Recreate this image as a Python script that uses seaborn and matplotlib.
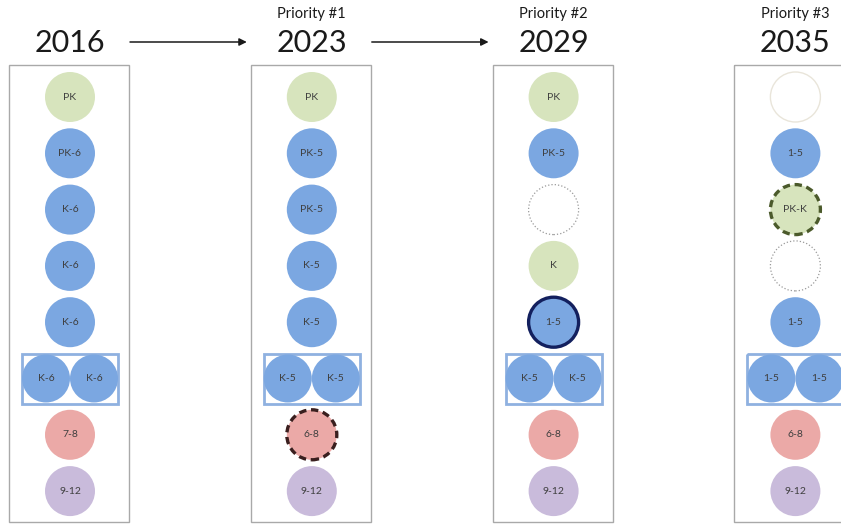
import matplotlib
matplotlib.use("Agg")
import matplotlib.pyplot as plt
from matplotlib.patches import Rectangle
import pandas as pd
import seaborn as sns

sns.set_theme(style="white")
plt.rcParams["font.family"] = ["Lato", "DejaVu Sans"]

# ---- data -------------------------------------------------------------
years = ["2016", "2023", "2029", "2035"]
priorities = ["", "Priority #1", "Priority #2", "Priority #3"]
arrows_after = [True, True, False, False]

# one entry per row; a tuple means two schools side by side in a box
labels = [
    ["PK", "PK-6", "K-6", "K-6", "K-6", ("K-6", "K-6"), "7-8", "9-12"],
    ["PK", "PK-5", "PK-5", "K-5", "K-5", ("K-5", "K-5"), "6-8", "9-12"],
    ["PK", "PK-5", "", "K", "1-5", ("K-5", "K-5"), "6-8", "9-12"],
    ["", "1-5", "PK-K", "", "1-5", ("1-5", "1-5"), "6-8", "9-12"],
]
fills = [
    ["green", "blue", "blue", "blue", "blue", "blue", "red", "purple"],
    ["green", "blue", "blue", "blue", "blue", "blue", "red", "purple"],
    ["green", "blue", "empty", "green", "blue", "blue", "red", "purple"],
    ["empty", "blue", "green", "empty", "blue", "blue", "red", "purple"],
]
edges = [
    ["", "", "", "", "", "", "", ""],
    ["", "", "", "", "", "", "dash_red", ""],
    ["", "", "dotted", "", "navy", "", "", ""],
    ["faint", "", "dash_green", "dotted", "", "", "", ""],
]

palette = {
    "green": "#d7e4bd",
    "blue": "#7ba7e1",
    "red": "#eba9a7",
    "purple": "#c9bbdb",
    "empty": "#ffffff",
}
edge_styles = {
    "dash_red": ("#3a1f1f", 2.4, (0, (2.2, 1.4))),
    "dash_green": ("#4b5a2b", 2.4, (0, (2.2, 1.4))),
    "navy": ("#13205e", 2.4, "-"),
    "dotted": ("#9a9a9a", 0.9, ":"),
    "faint": ("#e9e5da", 1.0, "-"),
}

# ---- layout (pixels) --------------------------------------------------
W, H = 841, 527
col_x0, col_step = 70, 241.8
row_y0, row_step = 97, 56.3
pair_dx = 24
s_single = (50 * 0.72) ** 2
s_pair = (48 * 0.72) ** 2

rows = []
for c, col in enumerate(labels):
    cx = col_x0 + c * col_step
    for r, lab in enumerate(col):
        cy = row_y0 + r * row_step
        if isinstance(lab, tuple):
            for k, sub in enumerate(lab):
                rows.append(dict(x=cx + (2 * k - 1) * pair_dx, y=cy, label=sub,
                                 fill=fills[c][r], edge=edges[c][r], size=s_pair, pair=True))
        else:
            rows.append(dict(x=cx, y=cy, label=lab, fill=fills[c][r],
                             edge=edges[c][r], size=s_single, pair=False))
df = pd.DataFrame(rows)

fig = plt.figure(figsize=(W / 100, H / 100), dpi=100)
ax = fig.add_axes([0, 0, 1, 1])
ax.set_xlim(0, W)
ax.set_ylim(H, 0)
ax.axis("off")

# column boxes, titles, arrows
for c, year in enumerate(years):
    cx = col_x0 + c * col_step
    ax.add_patch(Rectangle((cx - 61, 65), 120, 457, fill=False,
                           edgecolor="#a9a9a9", lw=1.0, zorder=1))
    ax.text(cx, 43, year, ha="center", va="center", fontsize=22, color="#1a1a1a")
    if priorities[c]:
        ax.text(cx, 14, priorities[c], ha="center", va="center", fontsize=10.5, color="#1a1a1a")
    if arrows_after[c]:
        ax.annotate("", xy=(cx + col_step - 65, 42), xytext=(cx + 60, 42),
                    arrowprops=dict(arrowstyle="-|>", color="#1a1a1a", lw=1.1,
                                    mutation_scale=11, shrinkA=0, shrinkB=0))
    # box around the pair row
    pr = [r for r, lab in enumerate(labels[c]) if isinstance(lab, tuple)][0]
    py = row_y0 + pr * row_step
    ax.add_patch(Rectangle((cx - 2 * pair_dx, py - 25), 4 * pair_dx, 50, fill=False,
                           edgecolor="#8fb1e0", lw=2.0, zorder=2))

for size, sub in df.groupby("size"):
    sns.scatterplot(data=sub, x="x", y="y", hue="fill", palette=palette, s=size,
                    linewidth=0, legend=False, ax=ax, zorder=3)

for name, sub in df[df["edge"] != ""].groupby("edge"):
    color, lw, ls = edge_styles[name]
    ax.scatter(sub["x"], sub["y"], s=sub["size"], facecolors="none", edgecolors=color,
               linewidths=lw, linestyles=[ls], zorder=4)

for _, row in df.iterrows():
    if row["label"]:
        ax.text(row["x"], row["y"], row["label"], ha="center", va="center",
                fontsize=7.5, color="#3f3f3f", zorder=5)

ax.set_xlim(0, W)
ax.set_ylim(H, 0)
fig.savefig("out.png", dpi=100)
